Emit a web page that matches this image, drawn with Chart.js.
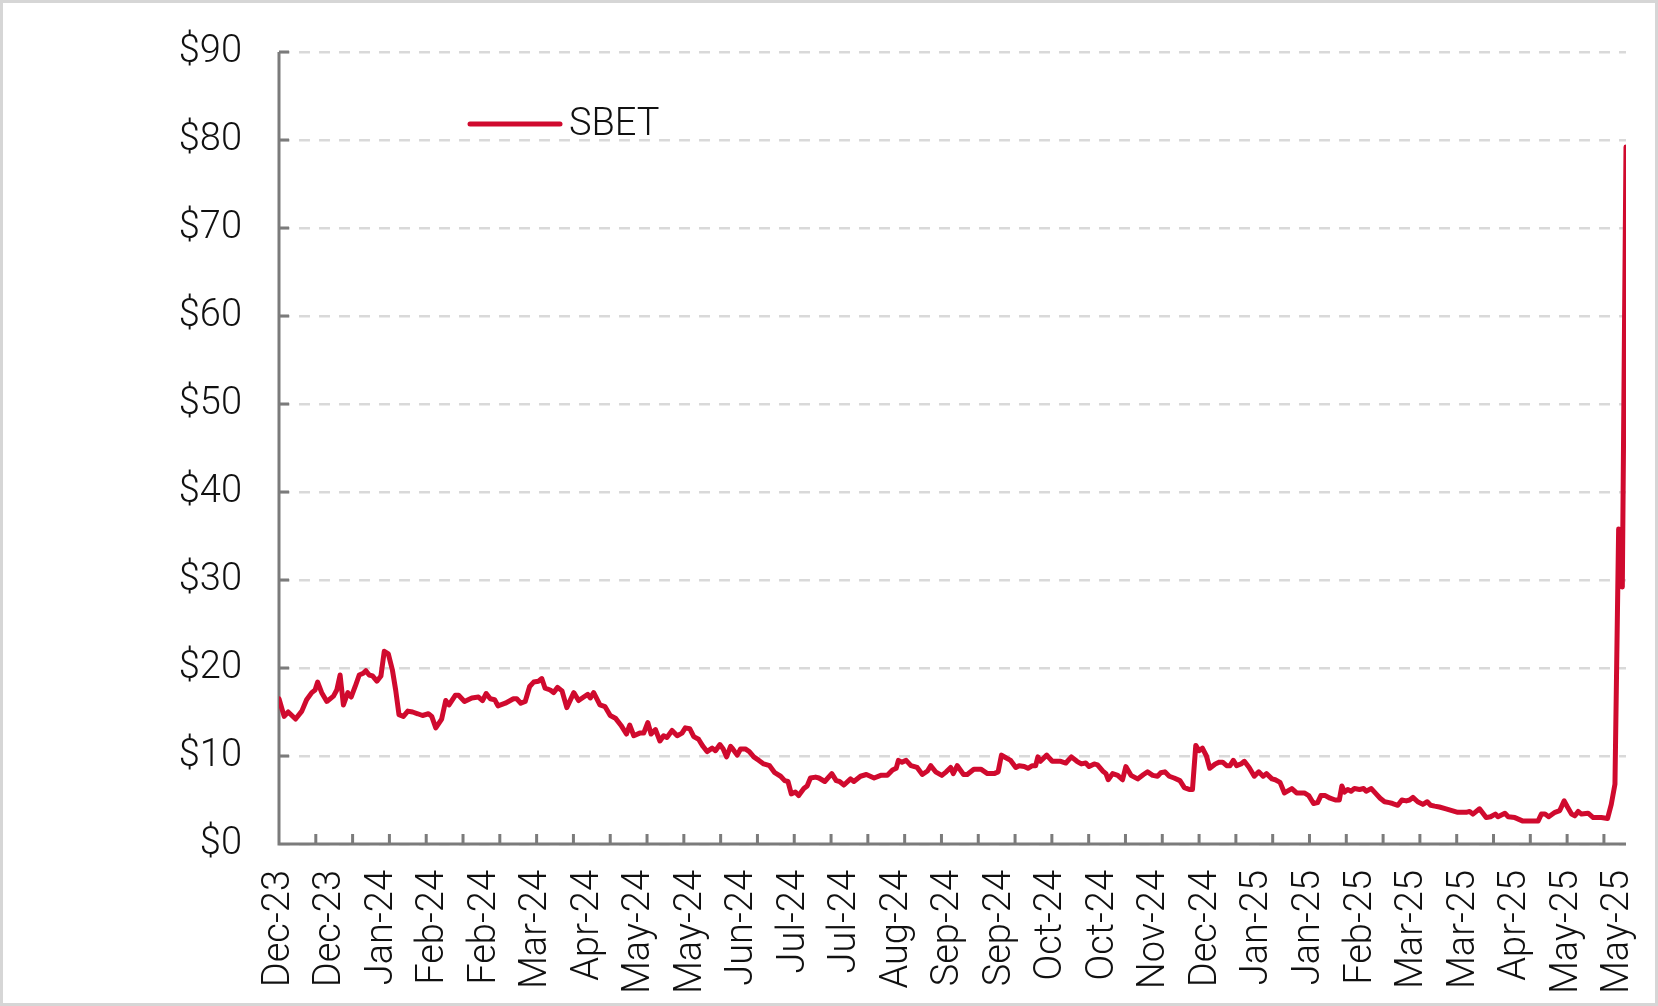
<!DOCTYPE html>
<html>
<head>
<meta charset="utf-8">
<title>SBET</title>
<script src="https://cdn.jsdelivr.net/npm/chart.js@4.4.1/dist/chart.umd.min.js"></script>
<style>
  html, body { margin: 0; padding: 0; background: #fff; }
  canvas { display: block; }
</style>
</head>
<body>
<canvas id="sbetChart" width="1658" height="1006"></canvas>
<script>
// x axis labels, one every 14 trading days starting at day 0
const tickLabels = ['Dec-23', 'Dec-23', 'Jan-24', 'Feb-24', 'Feb-24', 'Mar-24', 'Apr-24', 'May-24', 'May-24',
    'Jun-24', 'Jul-24', 'Jul-24', 'Aug-24', 'Sep-24', 'Sep-24', 'Oct-24', 'Oct-24', 'Nov-24', 'Dec-24',
    'Jan-25', 'Jan-25', 'Feb-25', 'Mar-25', 'Mar-25', 'Apr-25', 'May-25', 'May-25'];
const labelEvery = 14;
const tickMarkEvery = 10;
const lastDay = 366;

// trading day number and closing price
const dayIndex = [
    0, 1.4, 2.5, 4.5, 6.2, 7.5, 8.9, 9.8, 10.5, 11.6, 13, 14.8, 15.7, 16.6, 17.5, 18.7, 19.6, 20.7, 21.8, 22.9,
    23.6, 24.5, 25.4, 26.6, 27.7, 28.6, 29.7, 30.8, 31.7, 32.6, 33.8, 35, 36.3, 37.7, 39, 40.6, 41.5, 42.6, 44.2, 45.3,
    46.2, 47.9, 48.8, 50.4, 52.4, 54.2, 55.3, 56.3, 57.4, 58.6, 59.5, 61.5, 63.7, 64.6, 65.7, 66.9, 68.1, 69.2, 70.5, 71.4,
    72.3, 73.7, 74.6, 75.7, 76.9, 78.2, 80.1, 81.4, 82.8, 83.9, 84.6, 85.5, 87.2, 88.6, 90, 91.4, 92.9, 94.4, 95.3, 96.4,
    98, 99.1, 100.2, 101.1, 102.3, 103.5, 104.5, 105.4, 106.8, 108.2, 109.5, 110.4, 111.6, 112.7, 114, 115.2, 116.3, 117.7, 118.6, 119.8,
    120.7, 121.6, 122.7, 123.3, 124.5, 125.4, 126.7, 127.8, 129, 130.4, 131.7, 133.3, 134.7, 136.3, 137.4, 138.3, 139.2, 140.3, 141.2, 142.6,
    143.5, 144.4, 145.8, 146.7, 148.3, 150.2, 151.4, 152.3, 153.5, 155.3, 156.2, 158, 159.6, 161.7, 163.5, 165.3, 166.7, 167.7, 168.3, 169.3,
    170.4, 171.7, 173.4, 174.8, 176.2, 177.1, 178.4, 180.1, 181.3, 182.5, 183.2, 184.3, 186, 187, 188.8, 190.7, 192.5, 194.3, 195.4, 196.3,
    197.5, 198.8, 200.2, 201.1, 202.5, 203.5, 204.7, 205.6, 206.2, 206.9, 208.6, 210.1, 212.4, 213.8, 215.3, 216.8, 218, 219.2, 220.1, 221.5,
    222.4, 223.8, 224.7, 225.3, 226.5, 227.9, 229.2, 230.1, 231.5, 233.3, 234.9, 236, 237.4, 238.7, 239.6, 240.7, 241.9, 243.2, 244.8, 246,
    247.3, 248.2, 249.1, 250, 250.9, 252, 252.9, 254.4, 255.5, 256.4, 257.5, 258.4, 259.3, 260.2, 261.4, 262.3, 263.6, 265, 266.2, 267.4,
    268.3, 269.8, 270.7, 272, 273.2, 275.2, 276.5, 278.6, 279.8, 281.1, 282.2, 283.1, 284.3, 285.6, 287, 288.1, 288.8, 289.5, 290.4, 291.3,
    292.2, 293.6, 294.7, 295.4, 296.8, 298.1, 299.2, 300.4, 301.7, 302.6, 304, 305.1, 306.3, 307.2, 308.1, 309.4, 310.8, 312, 312.9, 314,
    315.3, 317.1, 318.7, 320.3, 322.6, 323.5, 324.4, 326.2, 328, 329.2, 330.5, 331.2, 333.1, 334, 335.8, 338, 340.3, 342.1, 343, 344,
    345, 346.7, 348, 349.2, 350.1, 351.2, 352.1, 353, 353.9, 355.7, 357.1, 359.3, 361, 362, 363, 364, 365, 366
];
const sbetClose = [
    16.5, 14.5, 15.0, 14.2, 15.1, 16.4, 17.2, 17.5, 18.4, 17.2, 16.2, 16.8, 17.5, 19.2, 15.8, 17.2, 16.7, 17.9, 19.2, 19.4,
    19.7, 19.2, 19.1, 18.5, 19.1, 21.9, 21.6, 19.8, 17.5, 14.7, 14.5, 15.1, 15.0, 14.8, 14.6, 14.8, 14.5, 13.2, 14.2, 16.3,
    15.8, 16.9, 16.9, 16.2, 16.6, 16.7, 16.3, 17.1, 16.5, 16.4, 15.7, 16.0, 16.5, 16.5, 16.0, 16.2, 17.9, 18.4, 18.5, 18.8,
    17.7, 17.5, 17.2, 17.8, 17.4, 15.5, 17.2, 16.3, 16.7, 17.0, 16.6, 17.2, 15.8, 15.6, 14.6, 14.3, 13.5, 12.5, 13.5, 12.3,
    12.6, 12.6, 13.8, 12.5, 13.0, 11.7, 12.3, 12.1, 12.9, 12.3, 12.6, 13.2, 13.1, 12.2, 11.9, 11.1, 10.5, 10.9, 10.6, 11.3,
    10.8, 9.9, 11.1, 10.8, 10.1, 10.8, 10.8, 10.5, 9.9, 9.5, 9.1, 8.9, 8.1, 7.7, 7.2, 7.1, 5.7, 5.9, 5.5, 6.3,
    6.6, 7.5, 7.6, 7.5, 7.1, 8.0, 7.2, 7.1, 6.7, 7.4, 7.1, 7.7, 7.9, 7.5, 7.8, 7.8, 8.4, 8.6, 9.5, 9.3,
    9.5, 8.9, 8.7, 7.9, 8.3, 8.9, 8.2, 7.8, 8.2, 8.7, 8.0, 8.9, 7.9, 7.9, 8.5, 8.5, 8.0, 8.0, 8.2, 10.1,
    9.8, 9.5, 8.7, 8.9, 8.8, 8.6, 8.9, 8.9, 9.9, 9.4, 10.1, 9.4, 9.4, 9.2, 9.9, 9.4, 9.1, 9.2, 8.8, 9.1,
    9.0, 8.3, 8.0, 7.3, 8.0, 7.8, 7.3, 8.8, 7.8, 7.4, 7.9, 8.2, 7.8, 7.7, 8.1, 8.2, 7.7, 7.5, 7.2, 6.4,
    6.2, 6.2, 11.2, 10.6, 10.9, 10.0, 8.6, 9.1, 9.3, 9.3, 8.9, 8.9, 9.5, 8.9, 9.1, 9.4, 8.7, 7.7, 8.2, 7.7,
    8.0, 7.4, 7.3, 7.0, 5.8, 6.3, 5.8, 5.8, 5.5, 4.6, 4.7, 5.5, 5.5, 5.2, 5.0, 5.0, 6.6, 5.9, 6.2, 6.0,
    6.3, 6.2, 6.3, 6.0, 6.3, 5.7, 5.2, 4.8, 4.7, 4.6, 4.4, 5.0, 4.9, 5.0, 5.3, 4.8, 4.5, 4.8, 4.4, 4.3,
    4.2, 4.0, 3.8, 3.6, 3.6, 3.7, 3.4, 4.0, 3.0, 3.1, 3.4, 3.1, 3.5, 3.1, 3.0, 2.6, 2.6, 2.6, 3.4, 3.4,
    3.1, 3.6, 3.8, 4.9, 4.2, 3.4, 3.2, 3.7, 3.4, 3.5, 3.0, 3.0, 2.9, 4.5, 6.8, 35.8, 29.2, 79.2
];

const textFont = { family: 'Roboto, "Liberation Sans", Arial, sans-serif', size: 38, weight: '300' };
const axisGray = '#7b7b7b';

// white page with a light grey frame
const frame = {
    id: 'frame',
    beforeDraw(chart) {
        const ctx = chart.ctx;
        ctx.save();
        ctx.fillStyle = '#fff';
        ctx.fillRect(0, 0, chart.width, chart.height);
        ctx.restore();
    },
    afterDraw(chart) {
        const ctx = chart.ctx;
        ctx.save();
        ctx.strokeStyle = '#d6d6d6';
        ctx.lineWidth = 3;
        ctx.strokeRect(1.5, 1.5, chart.width - 3, chart.height - 3);
        ctx.restore();
    }
};

// axis lines and the short inside tick marks
const axisMarks = {
    id: 'axisMarks',
    beforeDatasetsDraw(chart) {
        const { ctx, chartArea: a, scales: { x, y } } = chart;
        ctx.save();
        ctx.strokeStyle = axisGray;
        ctx.lineWidth = 3;
        ctx.beginPath();
        ctx.moveTo(a.left, a.top);
        ctx.lineTo(a.left, a.bottom);
        ctx.lineTo(a.right, a.bottom);
        y.ticks.forEach(t => {
            const py = y.getPixelForValue(t.value);
            ctx.moveTo(a.left, py);
            ctx.lineTo(a.left + 10, py);
        });
        for (let d = tickMarkEvery; d <= lastDay; d += tickMarkEvery) {
            const px = x.getPixelForValue(d);
            ctx.moveTo(px, a.bottom);
            ctx.lineTo(px, a.bottom - 10);
        }
        ctx.stroke();
        ctx.restore();
    }
};

// legend inside the plot, upper left
const insideLegend = {
    id: 'insideLegend',
    afterDraw(chart) {
        const ctx = chart.ctx;
        const ds = chart.data.datasets[0];
        const x0 = chart.chartArea.left + 191;
        const y0 = chart.chartArea.top + 72;
        ctx.save();
        ctx.strokeStyle = ds.borderColor;
        ctx.lineWidth = ds.borderWidth;
        ctx.lineCap = 'round';
        ctx.beginPath();
        ctx.moveTo(x0, y0);
        ctx.lineTo(x0 + 90, y0);
        ctx.stroke();
        ctx.fillStyle = '#111';
        ctx.font = textFont.weight + ' ' + textFont.size + 'px ' + textFont.family;
        ctx.textBaseline = 'middle';
        ctx.fillText(ds.label, x0 + 99, y0 + 1);
        ctx.restore();
    }
};

const ctx = document.getElementById('sbetChart').getContext('2d');

new Chart(ctx, {
    type: 'line',
    data: {
        datasets: [{
            label: 'SBET',
            data: dayIndex.map((d, i) => ({ x: d, y: sbetClose[i] })),
            borderColor: '#d00a2e',
            borderWidth: 5,
            borderJoinStyle: 'round',
            borderCapStyle: 'round',
            pointRadius: 0,
            tension: 0,
            fill: false
        }]
    },
    options: {
        responsive: false,
        animation: false,
        devicePixelRatio: 1,
        layout: { padding: { top: 52, right: 32, left: 0, bottom: 0 } },
        plugins: {
            legend: { display: false },
            tooltip: { enabled: false }
        },
        scales: {
            x: {
                type: 'linear',
                min: 0,
                max: lastDay,
                grid: { display: false },
                border: { display: false },
                afterBuildTicks: axis => {
                    axis.ticks = tickLabels.map((_, i) => ({ value: i * labelEvery }));
                },
                afterFit: scale => {
                    scale.height = 162;
                    scale.paddingLeft = 0;
                    scale.paddingRight = 0;
                },
                ticks: {
                    autoSkip: false,
                    minRotation: 90,
                    maxRotation: 90,
                    padding: 18,
                    color: '#111',
                    font: textFont,
                    callback: v => tickLabels[Math.round(v / labelEvery)]
                }
            },
            y: {
                min: 0,
                max: 90,
                afterFit: scale => {
                    scale.width = 279;
                    scale.paddingTop = 0;
                    scale.paddingBottom = 0;
                },
                grid: { color: '#d9d9d9', lineWidth: 2.5, drawTicks: false },
                border: { display: false, dash: [11, 9] },
                ticks: {
                    stepSize: 10,
                    padding: 37,
                    color: '#111',
                    font: textFont,
                    callback: v => '$' + v
                }
            }
        }
    },
    plugins: [frame, axisMarks, insideLegend]
});
</script>
</body>
</html>
